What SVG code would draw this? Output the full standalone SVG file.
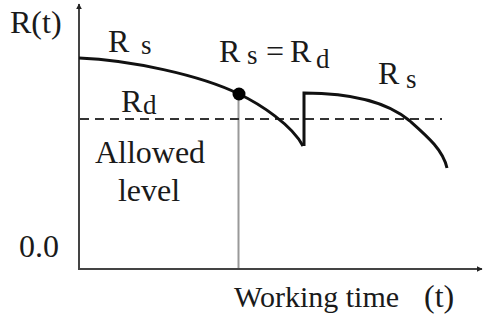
<svg xmlns="http://www.w3.org/2000/svg" width="483" height="320" viewBox="0 0 483 320">
<style>
.t{font-family:'Times New Roman',Times,'Liberation Serif','Noto Serif','DejaVu Serif',serif;fill:#1a1a1a}
.big{font-size:32px}
.sub{font-size:27px}
.curve{fill:none;stroke:#111;stroke-width:3}
.axis{fill:none;stroke:#444;stroke-width:2}
</style>
<defs>
<marker id="ah" viewBox="0 0 10 10" refX="9" refY="5" markerWidth="6" markerHeight="6" markerUnits="userSpaceOnUse" orient="auto">
<path d="M0,0 L10,5 L0,10 Z" fill="#222"/>
</marker>
</defs>
<rect width="483" height="320" fill="#fff"/>
<g id="axes">
<line class="axis" x1="79" y1="269" x2="79" y2="4" marker-end="url(#ah)"/>
<line class="axis" x1="78" y1="269" x2="482" y2="269" marker-end="url(#ah)"/>
</g>
<g id="connectors">
<line x1="238.5" y1="94" x2="238.5" y2="268" stroke="#999" stroke-width="2"/>
<line x1="80" y1="119" x2="442" y2="119" stroke="#333" stroke-width="2" stroke-dasharray="9,6"/>
<path class="curve" d="M79,58 C130,60 200,75 239,94 C260,104 292,125 303,146"/>
<path class="curve" d="M304,146 L304,93 C345,93 385,100 410,121 C428,137 443,150 447,168"/>
<circle cx="239" cy="94" r="6.5" fill="#000"/>
</g>
<g id="label-Rt"><text class="t" x="10" y="33" font-size="32">R(t)</text></g>
<g id="label-Rs1"><text class="t big" x="108" y="52">R</text><text class="t sub" x="141" y="54">s</text></g>
<g id="label-Rd"><text class="t big" x="121" y="112">R</text><text class="t sub" x="143" y="114">d</text></g>
<g id="label-eq"><text class="t big" x="219" y="62">R</text><text class="t sub" x="247" y="64">s</text><text class="t big" x="266" y="62">=</text><text class="t big" x="290" y="62">R</text><text class="t sub" x="316" y="68">d</text></g>
<g id="label-Rs2"><text class="t big" x="378" y="84">R</text><text class="t sub" x="406" y="88">s</text></g>
<g id="label-allowed"><text class="t big" x="150" y="163" text-anchor="middle">Allowed</text><text class="t big" x="149" y="201" text-anchor="middle">level</text></g>
<g id="label-zero"><text class="t" x="19" y="257" font-size="32">0.0</text></g>
<g id="label-xaxis"><text class="t" x="234" y="307" font-size="30">Working time</text><text class="t" x="424" y="307" font-size="32">(t)</text></g>
</svg>
